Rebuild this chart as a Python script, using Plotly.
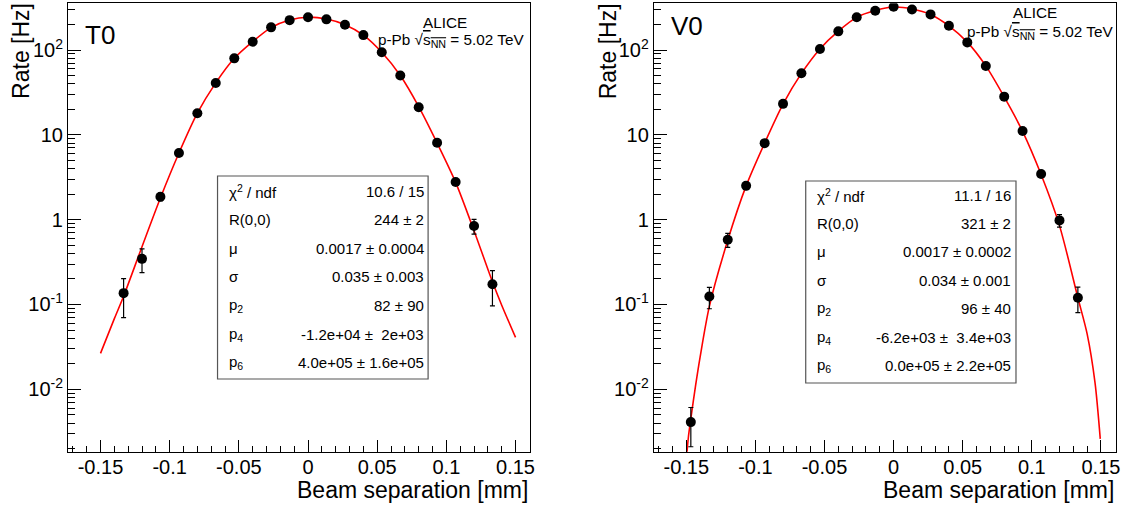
import plotly.graph_objects as go

W, H = 1131, 511
FONT = "Liberation Sans"

# ---------------- data ----------------
T0_x = [-0.1333, -0.12, -0.1067, -0.0933, -0.08, -0.0667, -0.0533, -0.04, -0.0267, -0.0133, 0.0,
        0.0133, 0.0267, 0.04, 0.0533, 0.0667, 0.08, 0.0933, 0.1067, 0.12, 0.1333]
T0_rate = [0.136, 0.345, 1.86, 6.1, 18.0, 40.9, 79.8, 125, 185, 225, 244,
           230, 199, 150, 94, 50, 21.2, 8.05, 2.78, 0.84, 0.173]
T0_err = [0.066, 0.107, 0.2, 0.35, 0.6, 0.9, 1.3, 1.6, 2.0, 2.2, 2.3,
          2.2, 2.0, 1.7, 1.3, 0.95, 0.6, 0.35, 0.22, 0.165, 0.077]

T0_fit_x = [-0.15, -0.14, -0.1333, -0.12, -0.1067, -0.0933, -0.08, -0.0667, -0.0533, -0.04, -0.0267,
            -0.0133, 0.0, 0.0133, 0.0267, 0.04, 0.0533, 0.0667, 0.08, 0.0933, 0.1067, 0.12, 0.1333,
            0.14, 0.15]
T0_fit_y = [0.0265, 0.068, 0.125, 0.48, 1.8, 6.1, 18, 41, 80, 126, 184,
            226, 244, 232, 199, 150, 94, 50, 21.5, 8.0, 2.75, 0.74, 0.185,
            0.098, 0.041]

V0_x = [-0.1467, -0.1333, -0.12, -0.1067, -0.0933, -0.08, -0.0667, -0.0533, -0.04, -0.0267, -0.0133,
        0.0, 0.0133, 0.0267, 0.04, 0.0533, 0.0667, 0.08, 0.0933, 0.1067, 0.12, 0.1333]
V0_rate = [0.0041, 0.124, 0.58, 2.51, 7.98, 23.2, 53.2, 103, 166, 243, 290,
           324, 301, 263, 193, 123, 64.9, 28.2, 11.1, 3.45, 0.98, 0.12]
V0_err = [0.002, 0.035, 0.11, 0.25, 0.45, 0.8, 1.2, 1.6, 2.0, 2.4, 2.6,
          2.7, 2.6, 2.4, 2.1, 1.6, 1.2, 0.75, 0.45, 0.25, 0.165, 0.04]

V0_fit_x = [-0.1502, -0.1485, -0.1467, -0.1433, -0.14, -0.1333, -0.12, -0.1067, -0.0933, -0.08,
            -0.0667, -0.0533, -0.04, -0.0267, -0.0133, 0.0, 0.0133, 0.0267, 0.04, 0.0533, 0.0667,
            0.08, 0.0933, 0.1067, 0.12, 0.1333, 0.14, 0.1457, 0.1495]
V0_fit_y = [0.0013, 0.0027, 0.0045, 0.011, 0.024, 0.095, 0.57, 2.5, 8.0, 23,
            53, 103, 167, 243, 292, 321, 305, 263, 193, 124, 65,
            28, 11, 3.4, 0.85, 0.12, 0.045, 0.012, 0.0026]

x_tickvals = [-0.15, -0.1, -0.05, 0.0, 0.05, 0.1, 0.15]
x_ticktext = ["-0.15", "-0.1", "-0.05", "0", "0.05", "0.1", "0.15"]
y_tickvals = [0.01, 0.1, 1, 10, 100]
y_ticktext = ["10<sup>-2</sup>", "10<sup>-1</sup>", "1", "10", "10<sup>2</sup>"]

stat_labels = ["χ<sup>2</sup> / ndf", "R(0,0)", "μ", "σ", "p<sub>2</sub>", "p<sub>4</sub>", "p<sub>6</sub>"]
T0_stats = ["10.6 / 15", "244 ± 2", "0.0017 ± 0.0004", "0.035 ± 0.003", "82 ± 90",
            "-1.2e+04 ± \u00a02e+03", "4.0e+05 ± 1.6e+05"]
V0_stats = ["11.1 / 16", "321 ± 2", "0.0017 ± 0.0002", "0.034 ± 0.001", "96 ± 40",
            "-6.2e+03 ± \u00a03.4e+03", "0.0e+05 ± 2.2e+05"]

# ---------------- helpers ----------------
def px(x):
    return x / W


def py(y):
    return 1 - y / H


fig = go.Figure()

panels = [
    dict(name="T0", x=T0_x, y=T0_rate, e=T0_err, fx=T0_fit_x, fy=T0_fit_y, xa="x", ya="y",
         stats=T0_stats),
    dict(name="V0", x=V0_x, y=V0_rate, e=V0_err, fx=V0_fit_x, fy=V0_fit_y, xa="x2", ya="y2",
         stats=V0_stats),
]

for p in panels:
    fig.add_trace(go.Scatter(x=p["fx"], y=p["fy"], mode="lines", xaxis=p["xa"], yaxis=p["ya"],
                             line=dict(color="#ff0000", width=1.6, shape="spline", smoothing=0.8),
                             showlegend=False, hoverinfo="skip"))
    fig.add_trace(go.Scatter(x=p["x"], y=p["y"], mode="markers", xaxis=p["xa"], yaxis=p["ya"],
                             marker=dict(color="black", size=10, symbol="circle"),
                             error_y=dict(type="data", array=p["e"], visible=True, color="black",
                                          thickness=1.2, width=2.5),
                             showlegend=False))

ydom = [py(451.7), py(3.3)]
xdoms = [[px(68.3), px(532.7)], [px(656.7), px(1120.7)]]
minor_y = [m * 10 ** e for e in range(-3, 3) for m in range(2, 10)]

for i, (xa, ya) in enumerate([("xaxis", "yaxis"), ("xaxis2", "yaxis2")]):
    anchor_x = "y" if i == 0 else "y2"
    anchor_y = "x" if i == 0 else "x2"
    fig.layout[xa] = dict(domain=xdoms[i], anchor=anchor_x, range=[-0.1735, 0.1607],
                          showline=True, linecolor="black", linewidth=1, mirror=True,
                          ticks="inside", ticklen=12, tickwidth=1, tickcolor="black",
                          tickvals=x_tickvals, ticktext=x_ticktext, ticklabelstandoff=-3,
                          tickfont=dict(family=FONT, size=20, color="black"),
                          minor=dict(dtick=0.01, tick0=0, ticks="inside", ticklen=6,
                                     tickcolor="black", tickwidth=1),
                          showgrid=False, zeroline=False)
    fig.layout[ya] = dict(domain=ydom, anchor=anchor_y, type="log", range=[-2.736, 2.551],
                          showline=True, linecolor="black", linewidth=1, mirror=True,
                          ticks="inside", ticklen=13, tickwidth=1, tickcolor="black",
                          tickvals=y_tickvals, ticktext=y_ticktext,
                          tickfont=dict(family=FONT, size=20, color="black"),
                          minor=dict(tickvals=minor_y, ticks="inside", ticklen=7,
                                     tickcolor="black", tickwidth=1),
                          showgrid=False, zeroline=False)

ann = []
shapes = []
# axis titles
for i in range(2):
    xl, xr = (68.3, 532.7) if i == 0 else (656.7, 1120.7)
    ann.append(dict(text="Beam separation [mm]", x=px(xr), y=py(490), xref="paper", yref="paper",
                    xanchor="right", yanchor="middle", showarrow=False,
                    font=dict(family=FONT, size=23, color="black")))
    ttl_x = 21 if i == 0 else 611
    ann.append(dict(text="Rate [Hz]", x=px(ttl_x), y=py(1), xref="paper", yref="paper",
                    textangle=-90, xanchor="center", yanchor="top", showarrow=False,
                    font=dict(family=FONT, size=23, color="black")))

# panel labels
ann.append(dict(text="T0", x=px(83), y=py(35), xref="paper", yref="paper", xanchor="left",
                yanchor="middle", showarrow=False, font=dict(family=FONT, size=26, color="black")))
ann.append(dict(text="V0", x=px(672), y=py(26), xref="paper", yref="paper", xanchor="left",
                yanchor="middle", showarrow=False, font=dict(family=FONT, size=26, color="black")))

alice_line2 = "p-Pb √<span style='text-decoration:overline'>s<sub>NN</sub></span> = 5.02 TeV"
for cx, y1, xr2, y2 in [(447, 22, 528, 40), (1040, 13, 1120, 32)]:
    ann.append(dict(text="ALICE", x=px(cx), y=py(y1), xref="paper", yref="paper",
                    xanchor="center", yanchor="middle", showarrow=False,
                    font=dict(family=FONT, size=15.3, color="black")))
    ann.append(dict(text=alice_line2, x=px(xr2), y=py(y2), xref="paper", yref="paper",
                    xanchor="right", yanchor="middle", showarrow=False,
                    font=dict(family=FONT, size=15.3, color="black")))

# stats boxes
for (bx0, bx1, by0, by1, row0, step, vals) in [(218.5, 430, 176, 379, 191, 28.6, T0_stats),
                                                (809.3, 1020.5, 181, 383, 195, 28.4, V0_stats)]:
    shapes.append(dict(type="rect", xref="paper", yref="paper", x0=px(bx0), x1=px(bx1),
                       y0=py(by1), y1=py(by0), line=dict(color="#555555", width=1.2),
                       fillcolor="white", layer="above"))
    for k, (lab, val) in enumerate(zip(stat_labels, vals)):
        yy = row0 + k * step
        ann.append(dict(text=lab, x=px(bx0 + 9.5), y=py(yy), xref="paper", yref="paper",
                        xanchor="left", yanchor="middle", showarrow=False,
                        font=dict(family=FONT, size=15, color="black")))
        ann.append(dict(text=val, x=px(bx1 - 2.5), y=py(yy), xref="paper", yref="paper",
                        xanchor="right", yanchor="middle", showarrow=False,
                        font=dict(family=FONT, size=15, color="black")))

fig.update_layout(width=W, height=H, margin=dict(l=0, r=0, t=0, b=0),
                  paper_bgcolor="white", plot_bgcolor="white",
                  annotations=ann, shapes=shapes, showlegend=False)

fig.write_html("out.html", config={"displayModeBar": False},
               post_script="document.body.style.margin='0';document.body.style.padding='0';")
